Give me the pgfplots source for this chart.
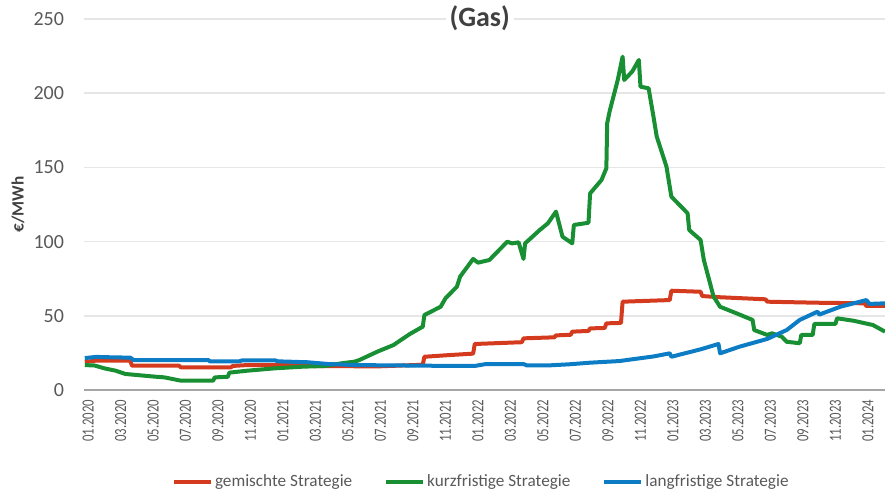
\documentclass[border=0pt]{standalone}
\usepackage{fontspec}
\setmainfont{Carlito}
\usepackage{graphicx}
\usepackage{pgfplots}
\pgfplotsset{compat=1.18}
\definecolor{cRed}{HTML}{D33A1E}
\definecolor{cGreen}{HTML}{188F33}
\definecolor{cBlue}{HTML}{0C7CC5}
\definecolor{cText}{HTML}{595959}
\definecolor{cTitle}{HTML}{404040}
\definecolor{cGrid}{HTML}{E6E6E6}
\definecolor{cAxis}{HTML}{A6A6A6}
\newcommand\xl[1]{\scalebox{0.75}[1]{#1}}
\begin{document}
\begin{tikzpicture}
\useasboundingbox (-42pt,-50.5pt) rectangle (400.5pt,195pt);
\clip (-42pt,-50.5pt) rectangle (400.5pt,195pt);
\begin{axis}[
  at={(0,0)}, anchor=south west,
  scale only axis, width=400.5pt, height=185.5pt,
  xmin=-0.25, xmax=49.05, ymin=0, ymax=250,
  xtick={0,2,...,48},
  xticklabels={\xl{01.2020},\xl{03.2020},\xl{05.2020},\xl{07.2020},\xl{09.2020},\xl{11.2020},
    \xl{01.2021},\xl{03.2021},\xl{05.2021},\xl{07.2021},\xl{09.2021},\xl{11.2021},
    \xl{01.2022},\xl{03.2022},\xl{05.2022},\xl{07.2022},\xl{09.2022},\xl{11.2022},
    \xl{01.2023},\xl{03.2023},\xl{05.2023},\xl{07.2023},\xl{09.2023},\xl{11.2023},\xl{01.2024}},
  ytick={0,50,...,250},
  axis x line*=bottom, axis y line*=left,
  x axis line style={-, draw=cAxis, line width=0.9pt},
  y axis line style={draw=none},
  major tick length=0pt,
  ymajorgrids, grid style={draw=cGrid, line width=0.8pt},
  /pgf/number format/assume math mode=true,
  yticklabel style={font=\fontsize{10}{12}\selectfont, text=cText},
  yticklabel shift=6.5pt,
  xticklabel style={font=\fontsize{8.5}{9}\selectfont, text=cText, rotate=90, anchor=east},
  xticklabel shift=1.3pt,
  ylabel={€/MWh},
  ylabel style={font=\bfseries\fontsize{8.6}{10}\selectfont, text=cTitle, at={(axis description cs:-0.0824,0.5)}, anchor=center},
  title={(Gas)},
  every axis title/.style={at={(axis description cs:0.494,0.981)}, anchor=base, font=\bfseries\fontsize{14}{16}\selectfont, text=cTitle, fill=white, inner sep=2pt},
  legend columns=3,
  legend style={at={(axis description cs:0.496,-0.248)}, anchor=center, draw=none, fill=none,
    font=\fontsize{8.6}{10}\selectfont, text=cText, inner sep=0pt,
    /tikz/every even column/.append style={column sep=15pt}, nodes={inner sep=1pt}},
  legend image code/.code={\draw[#1, line width=2pt] (0pt,0pt) -- (18.5pt,0pt);},
  every axis plot/.append style={line width=2pt, line join=round},
]
\addplot[cRed] coordinates {
(-0.2,18.9) (0.5,19.8) (2.6,19.8) (2.7,16.4) (5.6,16.4) (5.7,15.3) (8.8,15.3) (8.9,16.2)
(9.8,16.8) (13,16.8) (13.5,16.2) (17.8,15.9) (20.6,17.0) (20.7,22.4) (22.2,23.5) (23.7,24.5)
(23.8,31.0) (26.7,32.2) (26.8,34.8) (28.7,35.5) (28.8,36.8) (29.7,37.2) (29.8,39.3) (30.8,39.8)
(30.9,41.5) (31.8,41.8) (31.9,44.9) (32.8,45.2) (32.9,59.5) (35.8,60.6) (35.9,66.9) (37.7,66.2)
(37.8,63.3) (38.9,62.5) (41.7,61.1) (41.8,59.5) (44.9,58.8) (47.8,58.4) (47.9,56.6) (49.05,56.6)
};
\addlegendentry{gemischte Strategie}
\addplot[cGreen] coordinates {
(-0.2,16.8) (0.4,16.5) (1,14.6) (1.7,13) (2.3,10.8) (4.1,9) (4.7,8.5) (5.7,6.3) (7.7,6.3)
(7.8,8.5) (8.6,8.9) (8.7,11.7) (9.8,13) (11.5,14.6) (13.2,15.7) (14.6,16.2) (15.6,18)
(16.4,19.1) (16.7,20.2) (17.8,25.8) (18.8,30.3) (19.8,37.7) (20.6,42.7) (20.7,50.5)
(21.7,56.1) (22,61.8) (22.7,69.6) (22.9,76.4) (23.7,88.3) (24,85.8) (24.7,87.6) (25.8,99.9)
(26.1,98.8) (26.5,99.5) (26.8,88.3) (26.9,98.8) (27.8,107.8) (28.3,112.3) (28.8,120.2)
(29.2,103.3) (29.8,98.8) (29.9,111.2) (30.8,112.7) (30.9,132.5) (31.6,141.5) (31.9,149.4)
(31.95,179.7) (32.1,187.7) (32.6,208.9) (32.9,224.6) (33.0,208.9) (33.5,214.7) (33.9,222.4)
(34.0,204.4) (34.5,203.3) (34.8,184.2) (35.0,170.8) (35.6,150.5) (35.9,130.3) (36.9,119.1)
(37.0,107.8) (37.7,101.1) (37.9,87.6) (38.5,62.9) (38.9,56.1) (39.9,51.7) (40.9,47.2)
(41.0,40.4) (41.8,37.1) (42.1,38.2) (42.7,35.9) (43.0,32.5) (43.8,31.5) (43.9,37.1)
(44.6,37.1) (44.7,44.5) (46.0,44.5) (46.1,48.3) (47.1,46.7) (48.3,43.8) (49.05,39.3)
};
\addlegendentry{kurzfristige Strategie}
\addplot[cBlue] coordinates {
(-0.2,21.5) (0.5,22.3) (1.5,22) (2.6,21.8) (2.8,20.2) (7.4,20.2) (7.5,19.3) (9.3,19.3)
(9.5,20) (11.5,20) (11.7,19.3) (13.5,18.7) (14.8,17.5) (16.4,16.8) (20.6,16.4) (22.3,16.2)
(23.8,16.2) (24.5,17.5) (26.8,17.5) (27,16.6) (28.4,16.6) (29.6,17.3) (30.9,18.4)
(32.7,19.5) (33.5,20.7) (34.8,22.6) (35.8,24.7) (35.9,22.4) (37.7,27.4) (38.8,31.0)
(38.9,24.7) (40.1,29.2) (41.8,34.4) (43,40.4) (43.8,47.2) (44.9,52.8) (45.0,50.8)
(46.3,56.1) (47.9,60.6) (48.1,58.0) (49.05,58.4)
};
\addlegendentry{langfristige Strategie}
\end{axis}
\end{tikzpicture}
\end{document}
